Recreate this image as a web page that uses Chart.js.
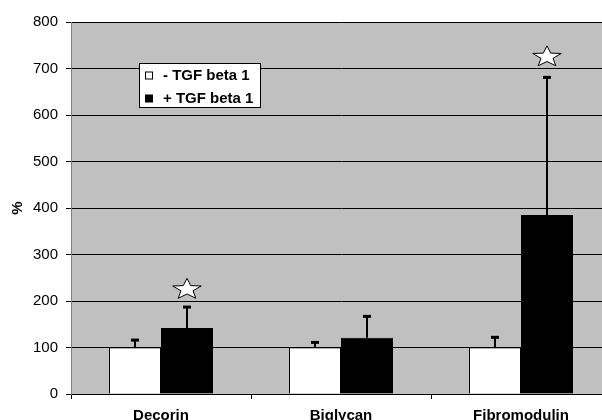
<!DOCTYPE html>
<html>
<head>
<meta charset="utf-8">
<script src="https://cdn.jsdelivr.net/npm/chart.js@4.4.0/dist/chart.umd.min.js"></script>
<style>
  html, body { margin: 0; padding: 0; overflow: hidden; background: #fff; }
  #wrap { width: 620px; height: 420px; }
</style>
</head>
<body>
<div id="wrap"><canvas id="chart"></canvas></div>
<script>
const categories = ["Decorin", "Biglycan", "Fibromodulin"];
const minusTgf = [100, 100, 100];
const plusTgf = [142, 121, 385];
const minusErr = [17, 12, 23];
const plusErr = [46, 47, 297];
// stars above the + TGF bars (value at star centre)
const starValues = [225, null, 725];
const yMin = 0, yMax = 800, yStep = 100;

const FONT = "'Liberation Sans', Arial, sans-serif";

// grey plot area
const plotBg = {
  id: "plotBg",
  beforeDraw(chart) {
    const { ctx, chartArea: a } = chart;
    ctx.save();
    ctx.fillStyle = "#c0c0c0";
    ctx.fillRect(a.left, a.top, a.right - a.left, a.bottom - a.top);
    ctx.restore();
  }
};

// upper error bars with a small cap
const errorBars = {
  id: "errorBars",
  afterDatasetsDraw(chart) {
    const { ctx } = chart;
    const y = chart.scales.y;
    ctx.save();
    ctx.strokeStyle = "#000";
    chart.data.datasets.forEach((ds, i) => {
      chart.getDatasetMeta(i).data.forEach((bar, j) => {
        const top = y.getPixelForValue(ds.data[j] + ds.errors[j]);
        const x = Math.round(bar.x);
        ctx.lineWidth = 2;
        ctx.beginPath();
        ctx.moveTo(x, bar.y);
        ctx.lineTo(x, top);
        ctx.stroke();
        ctx.lineWidth = 3;
        ctx.beginPath();
        ctx.moveTo(x - 4, top + 0.5);
        ctx.lineTo(x + 4, top + 0.5);
        ctx.stroke();
      });
    });
    ctx.restore();
  }
};

// white stars marking significance
const stars = {
  id: "stars",
  afterDatasetsDraw(chart) {
    const { ctx } = chart;
    const y = chart.scales.y;
    const meta = chart.getDatasetMeta(1);
    ctx.save();
    ctx.fillStyle = "#fff";
    ctx.strokeStyle = "#000";
    ctx.lineWidth = 1;
    starValues.forEach((v, j) => {
      if (v == null) return;
      const cx = meta.data[j].x;
      const cy = y.getPixelForValue(v);
      const rx = 15, ry = 11, inner = 0.42;
      ctx.beginPath();
      for (let k = 0; k < 10; k++) {
        const r = k % 2 ? inner : 1;
        const ang = -Math.PI / 2 + k * Math.PI / 5;
        const px = cx + Math.cos(ang) * rx * r;
        const py = cy + Math.sin(ang) * ry * r;
        k ? ctx.lineTo(px, py) : ctx.moveTo(px, py);
      }
      ctx.closePath();
      ctx.fill();
      ctx.stroke();
    });
    ctx.restore();
  }
};

// boxed legend inside the plot
const boxLegend = {
  id: "boxLegend",
  afterDraw(chart) {
    const { ctx } = chart;
    const x = 139.5, yTop = 63.5, w = 121, h = 44;
    ctx.save();
    ctx.fillStyle = "#fff";
    ctx.strokeStyle = "#000";
    ctx.lineWidth = 1;
    ctx.fillRect(x, yTop, w, h);
    ctx.strokeRect(x, yTop, w, h);
    ctx.font = "bold 15px " + FONT;
    ctx.textBaseline = "middle";
    chart.data.datasets.forEach((ds, i) => {
      const cy = 75.5 + i * 23;
      ctx.fillStyle = ds.backgroundColor;
      ctx.fillRect(145.5, cy - 3.5, 7, 7);
      ctx.strokeRect(145.5, cy - 3.5, 7, 7);
      ctx.fillStyle = "#000";
      ctx.fillText(ds.label, 163, cy + 0.5);
    });
    ctx.restore();
  }
};

new Chart(document.getElementById("chart"), {
  type: "bar",
  data: {
    labels: categories,
    datasets: [
      { label: "- TGF beta 1", data: minusTgf, errors: minusErr,
        backgroundColor: "#ffffff", borderColor: "#000", borderWidth: 1 },
      { label: "+ TGF beta 1", data: plusTgf, errors: plusErr,
        backgroundColor: "#000000", borderColor: "#000", borderWidth: 1 }
    ]
  },
  options: {
    responsive: true,
    maintainAspectRatio: false,
    animation: false,
    categoryPercentage: 0.578,
    barPercentage: 1,
    layout: { padding: { top: 22, right: 9, left: 0, bottom: 0 } },
    plugins: { legend: { display: false }, tooltip: { enabled: false } },
    scales: {
      x: {
        grid: { drawOnChartArea: false, drawTicks: true, tickLength: 5, color: "#000", offset: true },
        border: { color: "#000", width: 1 },
        ticks: { color: "#000", font: { family: FONT, size: 15, weight: "bold" }, padding: 8, maxRotation: 0 },
        afterFit(s) { s.height = 26; }
      },
      y: {
        min: yMin,
        max: yMax,
        ticks: { stepSize: yStep, color: "#000", font: { family: FONT, size: 15 }, padding: 8 },
        grid: { color: "#000", tickLength: 5 },
        border: { color: "#808080" },
        title: { display: true, text: "%", color: "#000",
                 font: { family: FONT, size: 15, weight: "bold" }, padding: { top: 9, bottom: 0 } },
        afterFit(s) { s.width = 71; }
      }
    }
  },
  plugins: [plotBg, errorBars, stars, boxLegend]
});
</script>
</body>
</html>
